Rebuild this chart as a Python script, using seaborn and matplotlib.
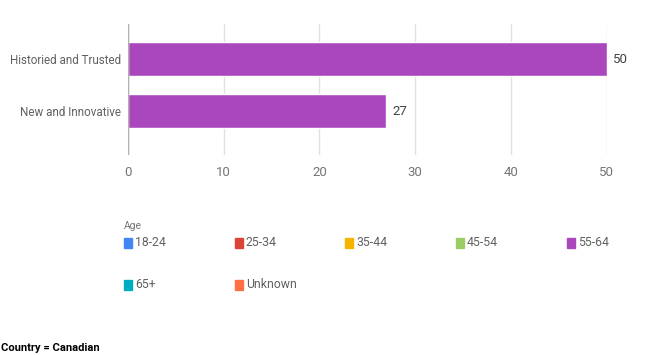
import matplotlib
matplotlib.use("Agg")
import matplotlib.pyplot as plt
import seaborn as sns
import pandas as pd
from matplotlib.patches import Rectangle

# datos del grafico
categorias = ["Historied and Trusted", "New and Innovative"]
valores = [50, 27]
edades = ["18-24", "25-34", "35-44", "45-54", "55-64", "65+", "Unknown"]
colores_edad = ["#4285F4", "#DB4437", "#F4B400", "#9CCC65", "#AB47BC", "#00ACC1", "#FF7043"]
ticks_x = [0, 10, 20, 30, 40, 50]

sns.set_theme(style="white")
plt.rcParams['font.family'] = ['Roboto', 'DejaVu Sans']

df = pd.DataFrame({"categoria": categorias, "valor": valores})

fig = plt.figure(figsize=(6.45, 3.55), dpi=100)
ax = fig.add_axes([0.198, 0.563, 0.743, 0.369])

sns.barplot(data=df, x="valor", y="categoria", orient="h", color="#AB47BC",
            width=0.65, saturation=1, ax=ax, zorder=3)

ax.set_xlim(0, 50)
ax.set_ylim(1.846, -0.673)
ax.set_xticks(ticks_x)
ax.xaxis.grid(True, color="#e0e0e0", linewidth=1, zorder=0)
ax.axvline(0, color="#b0b0b0", linewidth=1, zorder=4)
for s in ax.spines.values():
    s.set_visible(False)
ax.set_xlabel("")
ax.set_ylabel("")
ax.tick_params(axis="x", colors="#757575", labelsize=9.5, length=0, pad=8)
ax.tick_params(axis="y", colors="#616161", labelsize=8.4, length=0, pad=5)

for i, v in enumerate(valores):
    ax.text(v + 0.6, i, str(v), va="center", ha="left", fontsize=9.5,
            color="#424242", clip_on=False)

# leyenda manual
fig.text(124 / 645, 1 - 226 / 355, "Age", fontsize=7.5, color="#757575", va="center")
for k, (lab, col) in enumerate(zip(edades, colores_edad)):
    fila, columna = divmod(k, 5)
    x0 = 124 + columna * 110.7
    yc = 243 + fila * 42
    fig.add_artist(Rectangle((x0 / 645, 1 - (yc + 5) / 355), 8 / 645, 10 / 355,
                             transform=fig.transFigure, color=col))
    fig.text((x0 + 11) / 645, 1 - yc / 355, lab, fontsize=8.8, color="#616161", va="center")

fig.text(0.002, 1 - 353 / 355, "Country = Canadian", fontsize=8, color="black",
         va="bottom", fontweight="bold")

plt.savefig("out.png", dpi=100)
